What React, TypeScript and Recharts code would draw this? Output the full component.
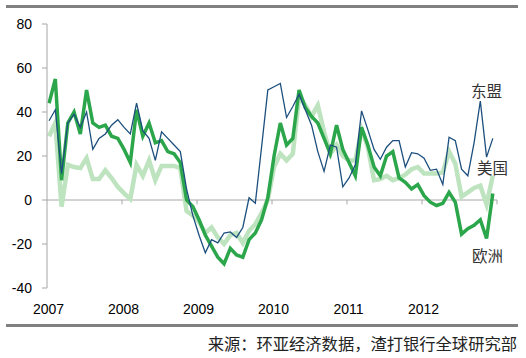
import { LineChart, Line, XAxis, YAxis, ReferenceLine } from "recharts"

// monthly, Jan 2007 .. Dec 2012
const years = ["2007", "2008", "2009", "2010", "2011", "2012"]
const yTicks = [-40, -20, 0, 20, 40, 60, 80]

const asean = [
  36, 41, 12, 35, 39, 33, 40, 23, 28, 30, 34, 36.5,
  33, 30, 44, 31.5, 28, 18, 31, 28, 25, 22, 5, -7,
  -16, -24, -18, -19.5, -15, -14.5, -17, -12.5, 1, -1.5, 24, 50,
  51.5, 53, 37.5, 42.5, 48, 41, 34, 22, 13, 25, 24, 6,
  10, 16, 40.5, 32, 23, 18.5, 24, 27, 27, 15, 21.5, 21,
  19, 13.5, 14, 7, 28.5, 27, 14, 11, 26, 45, 19.5, 28,
]

const usa = [
  29, 35, -3, 16, 15, 14.5, 19, 9.5, 9.5, 13.5, 10, 6,
  3, 0.5, 16, 11, 18, 9, 15.5, 15.5, 15.5, 14.5, -5, -7,
  -10, -15, -12.5, -17, -20, -16, -15, -19.5, -14, -11, -6, 0,
  15, 21, 18, 21, 47, 43, 38, 43, 31, 21, 25, 20,
  18, 18, 32, 24, 9, 9.5, 11, 9, 10, 11.5, 14, 15,
  12, 12, 12, 12.5, 22, 16.5, 1.5, 3.5, 5.5, 6.5, -2, 11,
]

const europe = [
  44, 55, 9, 35, 40, 30, 50, 35, 33, 34, 29, 28,
  23, 17, 41, 29, 35, 26, 27, 22, 21, 17, 0, -3,
  -9, -16, -21, -26, -29, -22, -25, -26, -18, -15, -9, 1,
  20, 35, 25, 28, 50, 42, 38, 35, 28, 21, 34, 23,
  17, 11, 33, 25, 15, 11, 20, 22, 10, 8, 5, 7,
  2, -1, -2.5, -1.5, 3.5, -1, -15.5, -13, -11.5, -9, -17.5, 3,
]

const data = asean.map((v, i) => ({
  m: i + 0.33,
  asean: v,
  usa: usa[i],
  europe: europe[i],
}))

const xTicks = years.map((_, i) => i * 12)
const zeroTicks = [12, 24, 36, 48, 60, 72]

const axisColor = "#a6a6a6"
const cjk = '"Noto Sans CJK SC", sans-serif'
const latin = "Arial, 'Liberation Sans', sans-serif"

export default function App() {
  return (
    <div style={{ position: "absolute", left: 0, top: 0, width: 526, height: 358, background: "#fff" }}>
      <div style={{ position: "absolute", left: 6, top: 5, width: 512, height: 3, background: "#808080" }} />
      <LineChart
        width={526}
        height={358}
        data={data}
        margin={{ top: 24, right: 29, bottom: 40, left: 0 }}
      >
        <XAxis
          dataKey="m"
          type="number"
          domain={[0, 72]}
          ticks={xTicks}
          tickFormatter={(v) => years[v / 12]}
          axisLine={false}
          tickLine={false}
          tickSize={0}
          tickMargin={16}
          height={30}
          tick={{ fill: "#000", fontSize: 14, fontFamily: latin, dx: 1.5 }}
        />
        <YAxis
          domain={[-40, 80]}
          ticks={yTicks}
          width={47}
          axisLine={{ stroke: axisColor }}
          tickLine={{ stroke: axisColor }}
          tickSize={5}
          tickMargin={10}
          tick={{ fill: "#000", fontSize: 14, fontFamily: latin }}
        />
        <ReferenceLine y={0} stroke={axisColor} />
        {zeroTicks.map((t) => (
          <ReferenceLine
            key={t}
            segment={[{ x: t, y: 0 }, { x: t, y: -2 }]}
            stroke={axisColor}
          />
        ))}
        <Line dataKey="usa" stroke="#bde3bf" strokeWidth={4.5} dot={false} isAnimationActive={false} />
        <Line dataKey="europe" stroke="#2ca64b" strokeWidth={3.5} dot={false} isAnimationActive={false} />
        <Line dataKey="asean" stroke="#1c4f7e" strokeWidth={1.3} dot={false} isAnimationActive={false} />
      </LineChart>
      <div style={{ position: "absolute", left: 471, top: 80, fontSize: 15.5, lineHeight: "20px", color: "#333", fontFamily: cjk }}>东盟</div>
      <div style={{ position: "absolute", left: 477, top: 157, fontSize: 15.5, lineHeight: "20px", color: "#333", fontFamily: cjk }}>美国</div>
      <div style={{ position: "absolute", left: 472, top: 245, fontSize: 15.5, lineHeight: "20px", color: "#333", fontFamily: cjk }}>欧洲</div>
      <div style={{ position: "absolute", left: 6, top: 324, width: 512, height: 3, background: "#808080" }} />
      <div style={{ position: "absolute", right: 9, top: 333, fontSize: 16.3, lineHeight: "20px", color: "#222", fontFamily: cjk, whiteSpace: "nowrap" }}>
        来源：环亚经济数据，渣打银行全球研究部
      </div>
    </div>
  )
}
